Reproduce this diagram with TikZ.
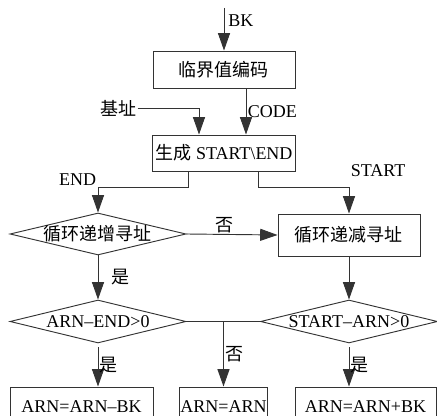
\documentclass[tikz,border=0pt]{standalone}
\usepackage{fontspec}
\setmainfont{Liberation Serif}
\newfontfamily\cjk{Noto Sans CJK SC}
\usetikzlibrary{positioning,arrows.meta,shapes.geometric}

\begin{document}
\begin{tikzpicture}[x=0.75pt, y=-0.75pt,
  font=\fontsize{13.5}{15}\selectfont,
  box/.style={draw=black!80, line width=0.7pt, inner sep=1pt, align=center},
  dia/.style={draw=black!80, line width=0.7pt, diamond, inner sep=0pt},
  arr/.style={-{Triangle[length=13pt, width=9pt]}, line width=0.7pt, draw=black!80},
  lbl/.style={inner sep=1pt}]
\useasboundingbox (0,0) rectangle (437,416);
\clip (0,0) rectangle (437,416);
% processing boxes
\node[box, minimum width=106.5pt, minimum height=27.75pt] (code) at (224,69.5) {\cjk 临界值编码};
\node[box, minimum width=107.25pt, minimum height=27pt] (gen) at (224,153) {{\cjk 生成} START\textbackslash END};
\node[box, minimum width=106.5pt, minimum height=31.5pt] (dec) at (349,235) {\cjk 循环递减寻址};
% decisions
\node[dia, minimum width=132pt, minimum height=31.5pt,
  label={[name=d1t, lbl]center:{\cjk 循环递增寻址}}] (d1) at (98,234) {};
\node[dia, minimum width=132pt, minimum height=32.25pt,
  label={[name=d2t, lbl]center:ARN--END>0}] (d2) at (98,321.5) {};
\node[dia, minimum width=132.75pt, minimum height=32.25pt,
  label={[name=d3t, lbl]center:START--ARN>0}] (d3) at (349,321.5) {};
% results
\node[box, minimum width=107.25pt, minimum height=30pt] (r1) at (81.5,407) {ARN=ARN--BK};
\node[box, minimum width=65.25pt, minimum height=30pt] (r2) at (223.5,407) {ARN=ARN};
\node[box, minimum width=105.75pt, minimum height=30pt] (r3) at (365.5,407) {ARN=ARN+BK};

% inputs
\coordinate (bkin) at (224,8);
\node[lbl] (base) at (118,108) {\cjk 基址};
\draw[arr] (bkin) -- node[right, pos=0.3, xshift=2pt, lbl] (bklbl) {BK} (code.north);
\draw[arr] (base.east) -| ([xshift=-18.75pt]gen.north);
\draw[arr] ([xshift=16.5pt]code.south) -- node[right, lbl] (codelbl) {CODE} ([xshift=16.5pt]gen.north);
% split to END / START
\draw[arr] ([xshift=-27pt]gen.south) -- ++(0,16)
  -| node[pos=0.5, above left, lbl] (endlbl) {END} (d1.north);
\draw[arr] ([xshift=25.5pt]gen.south) -- ++(0,16)
  -| node[pos=0.5, above right, yshift=7pt, lbl] (startlbl) {START} (dec.north);
\draw[arr] (d1.east) -- node[above, pos=0.42, lbl] (no1) {\cjk 否} (dec.west);
\draw[arr] (d1.south) -- node[right, xshift=9pt, lbl] (yes1) {\cjk 是} (d2.north);
\draw[arr] (dec.south) -- (d3.north);
% comparisons
\draw[line width=0.7pt, draw=black!80] (d2.east) -- (d3.west);
\draw[arr] (d2.east -| r2.north) -- node[right, lbl] (no2) {\cjk 否} (r2.north);
\draw[arr, shorten <=3pt] (d2.south) -- node[right, lbl] (yes2) {\cjk 是} (d2.south |- r1.north);
\draw[arr, shorten <=3pt] (d3.south) -- node[right, lbl] (yes3) {\cjk 是} (d3.south |- r3.north);
\end{tikzpicture}
\end{document}
